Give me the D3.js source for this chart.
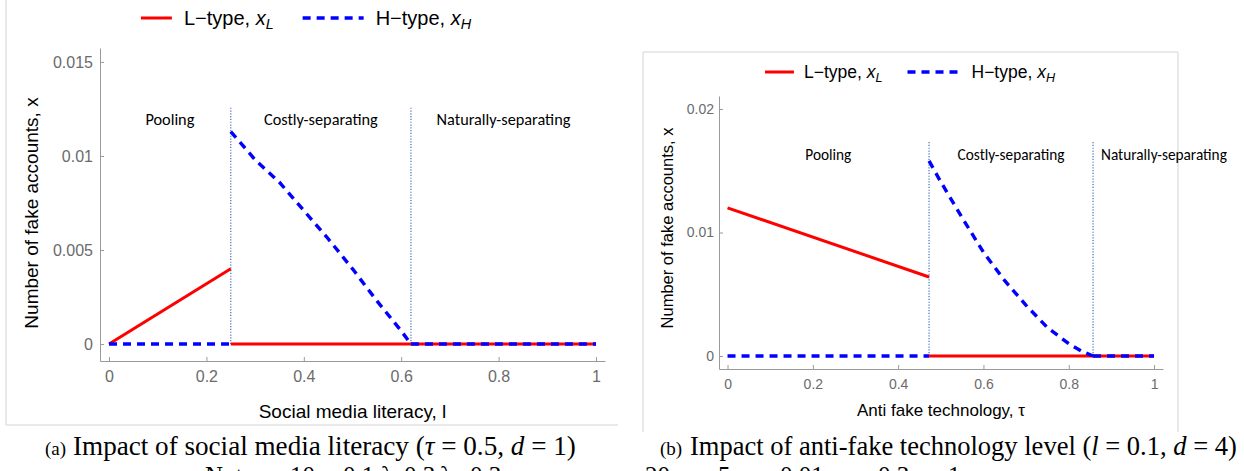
<!DOCTYPE html>
<html>
<head>
<meta charset="utf-8">
<script src="https://cdn.jsdelivr.net/npm/d3@7"></script>
<style>
  body { margin: 0; background: #fff; }
  svg { display: block; }
</style>
</head>
<body>
<svg id="fig" width="1244" height="471"></svg>
<script>
// ---------- shared labels ----------
const regionNames = ["Pooling", "Costly-separating", "Naturally-separating"];
const xTickValues = [0, 0.2, 0.4, 0.6, 0.8, 1];
const xTickLabels = ["0", "0.2", "0.4", "0.6", "0.8", "1"];

// ---------- panel (a): social media literacy l ----------
const aYTickValues = [0, 0.005, 0.01, 0.015];
const aYTickLabels = ["0", "0.005", "0.01", "0.015"];
const aBounds = [0, 0.25, 0.62, 1];
const aLPoolX = [0, 0.25];
const aLPoolY = [0, 0.004];
const aLSepX = [0.25, 1];
const aLSepY = [0, 0];
const aHPoolX = [0, 0.25];
const aHPoolY = [0, 0];
const aHCostX = [0.25, 0.30, 0.35, 0.40, 0.45, 0.50, 0.55, 0.60, 0.62];
const aHCostY = [0.0113, 0.0098, 0.0086, 0.0071, 0.0056, 0.0040, 0.0023, 0.0007, 0];
const aHNatX = [0.62, 1];
const aHNatY = [0, 0];

// ---------- panel (b): anti-fake technology tau ----------
const bYTickValues = [0, 0.01, 0.02];
const bYTickLabels = ["0", "0.01", "0.02"];
const bBounds = [0, 0.4725, 0.857, 1];
const bLPoolX = [0, 0.4725];
const bLPoolY = [0.012, 0.0064];
const bLSepX = [0.4725, 1];
const bLSepY = [0, 0];
const bHPoolX = [0, 0.4725];
const bHPoolY = [0, 0];
const bHCostX = [0.4725, 0.50, 0.55, 0.60, 0.65, 0.70, 0.75, 0.80, 0.83, 0.857];
const bHCostY = [0.0158, 0.0141, 0.0112, 0.0084, 0.0061, 0.0041, 0.0023, 0.0010, 0.0004, 0];
const bHNatX = [0.857, 1];
const bHNatY = [0, 0];

// ---------- parameter note under the captions (runs off the bottom edge) ----------
const noteParts = ["Note:", "10", "0.1", "\u03bb", "0.3", "\u03bb", "0.3", "20", "5", "0.01", "0.3", "1"];
const noteAt = [205, 290, 343, 381, 404, 440, 470, 645, 718, 780, 878, 948];

const RED = "#ff0000", BLUE = "#0000ff", DOT = "#5a87c2";
const AXIS = "#9a9a9a", TICKTXT = "#6b6b6b";
const SANS = "'Liberation Sans', Arial, Helvetica, sans-serif";
const SERIF = "'Liberation Serif', 'Times New Roman', serif";

const svg = d3.select("#fig");
svg.append("rect").attr("width", 1244).attr("height", 471).attr("fill", "#fff");

const zip = (xs, ys) => xs.map((v, i) => [v, ys[i]]);

function drawPanel(o) {
  const g = svg.append("g");

  // frame of the panel
  g.append("path").attr("d", o.frame).attr("fill", "none")
    .attr("stroke", "#d4d4d4").attr("stroke-width", 1);

  const x = d3.scaleLinear().domain(o.xDom).range([o.left, o.right]);
  const y = d3.scaleLinear().domain(o.yDom).range([o.bottom, o.top]);

  // axes with inward ticks
  const ax = g.append("g").attr("transform", `translate(0,${o.bottom})`)
    .call(d3.axisBottom(x).tickValues(xTickValues)
      .tickFormat((d, i) => xTickLabels[i])
      .tickSizeInner(-o.tick).tickSizeOuter(0).tickPadding(o.xPad));
  const ay = g.append("g").attr("transform", `translate(${o.left},0)`)
    .call(d3.axisLeft(y).tickValues(o.yTicks)
      .tickFormat((d, i) => o.yLabels[i])
      .tickSizeInner(-o.tick).tickSizeOuter(0).tickPadding(o.yPad));
  [ax, ay].forEach(a => {
    a.select(".domain").attr("stroke", AXIS);
    a.selectAll(".tick line").attr("stroke", AXIS);
    a.selectAll(".tick text").attr("fill", TICKTXT)
      .style("font-family", SANS).style("font-size", o.tickFont + "px");
  });

  // regime boundaries
  const inner = o.bounds.slice(1, -1);
  g.selectAll(".bnd").data(inner).enter().append("line")
    .attr("x1", d => x(d)).attr("x2", d => x(d))
    .attr("y1", y(0)).attr("y2", o.top + o.vTop)
    .attr("stroke", DOT).attr("stroke-width", 1.4)
    .attr("stroke-dasharray", "1.2,1.6");

  // regime labels
  for (let i = 0; i < regionNames.length; i++) {
    const a = x(o.bounds[i]), b = x(o.bounds[i + 1]);
    const t = g.append("text").text(regionNames[i])
      .attr("y", o.top + o.labelY)
      .attr("text-anchor", "middle")
      .style("font-family", "Carlito, Lato, sans-serif")
      .style("font-size", o.labelFont + "px").attr("fill", "#000");
    const w = t.node().getComputedTextLength();
    let cx = (a + b) / 2;
    if (cx - w / 2 < a + 8) cx = a + 8 + w / 2;
    t.attr("x", cx);
  }

  const line = d3.line().x(d => x(d[0])).y(d => y(d[1]));
  const red = s => g.append("path").datum(s).attr("d", line).attr("fill", "none")
    .attr("stroke", RED).attr("stroke-width", 3);
  const blue = s => g.append("path").datum(s).attr("d", line).attr("fill", "none")
    .attr("stroke", BLUE).attr("stroke-width", 3.4).attr("stroke-dasharray", "8,6");

  red(o.LPool); red(o.LSep);
  blue(o.HPool); blue(o.HCost); blue(o.HNat);

  // axis titles
  g.append("text").text(o.xTitle)
    .attr("x", (o.left + o.right) / 2 + o.xTitleDx).attr("y", o.xTitleY)
    .attr("text-anchor", "middle").style("font-family", SANS)
    .style("font-size", o.xTitleFont + "px").attr("fill", "#000");
  g.append("text").text("Number of fake accounts, x")
    .attr("transform", `translate(${o.yTitleX},${o.yTitleY}) rotate(-90)`)
    .attr("text-anchor", "middle").style("font-family", SANS)
    .style("font-size", o.yTitleFont + "px").attr("fill", "#000");

  // legend, centred over the panel
  const lg = g.append("g");
  let cur = 0;
  const items = [
    { c: RED, dash: null, w: o.legSw[0], sub: "L", label: "L\u2212type, " },
    { c: BLUE, dash: "8,6", w: o.legSw[1], sub: "H", label: "H\u2212type, " }
  ];
  items.forEach((it, k) => {
    lg.append("line").attr("x1", cur).attr("x2", cur + it.w)
      .attr("y1", 0).attr("y2", 0).attr("stroke", it.c)
      .attr("stroke-width", k === 0 ? 3 : 3.4)
      .attr("stroke-dasharray", it.dash);
    cur += it.w + o.legGap;
    const t = lg.append("text").attr("x", cur).attr("y", 0).attr("dy", "0.35em")
      .style("font-family", SANS).style("font-size", o.legFont + "px").attr("fill", "#000");
    t.append("tspan").text(it.label);
    t.append("tspan").text("x").style("font-style", "italic");
    t.append("tspan").text(it.sub).style("font-style", "italic")
      .style("font-size", (o.legFont * 0.72) + "px").attr("dy", "0.3em");
    cur += t.node().getComputedTextLength() + o.legSpace;
  });
  const lw = cur - o.legSpace;
  lg.attr("transform", `translate(${o.legCx - lw / 2},${o.legY})`);

  // caption: tag in a smaller size, then the sentence sized to its span
  g.append("text").text(o.capTag).attr("x", o.capTagX).attr("y", o.capY)
    .style("font-family", SERIF).style("font-size", "19px").attr("fill", "#000");
  const cap = g.append("text").attr("x", o.capX).attr("y", o.capY)
    .style("font-family", SERIF).style("font-size", "20px").attr("fill", "#000");
  o.caption.forEach(p => {
    const s = cap.append("tspan").text(p.t);
    if (p.i) s.style("font-style", "italic");
  });
  const cw = cap.node().getComputedTextLength();
  cap.style("font-size", (20 * o.capW / cw) + "px");
}

drawPanel({
  frame: "M6,0 V425 H618",
  left: 100, right: 605, top: 48, bottom: 361,
  xDom: [-0.0185, 1.0185], yDom: [-0.0009, 0.01574],
  yTicks: aYTickValues, yLabels: aYTickLabels,
  tick: 4, xPad: 10, yPad: 7, tickFont: 16,
  bounds: aBounds, vTop: 58, labelY: 77, labelFont: 16.3,
  LPool: zip(aLPoolX, aLPoolY), LSep: zip(aLSepX, aLSepY),
  HPool: zip(aHPoolX, aHPoolY), HCost: zip(aHCostX, aHCostY), HNat: zip(aHNatX, aHNatY),
  xTitle: "Social media literacy, l", xTitleDx: 0, xTitleY: 418, xTitleFont: 19,
  yTitleX: 38, yTitleY: 213, yTitleFont: 19,
  legCx: 306, legY: 18, legSw: [31, 61], legGap: 12, legSpace: 29, legFont: 20,
  capTagX: 45, capX: 73, capY: 455, capW: 503, capTag: "(a)",
  caption: [{ t: "Impact of social media literacy (" }, { t: "\u03c4", i: true },
    { t: " = 0.5, " }, { t: "d", i: true }, { t: " = 1)" }]
});

drawPanel({
  frame: "M643,432 V52 H1178 V432",
  left: 719, right: 1163, top: 96, bottom: 369,
  xDom: [-0.02, 1.021], yDom: [-0.00105, 0.02105],
  yTicks: bYTickValues, yLabels: bYTickLabels,
  tick: 4, xPad: 10, yPad: 5, tickFont: 14,
  bounds: bBounds, vTop: 46, labelY: 64, labelFont: 15.3,
  LPool: zip(bLPoolX, bLPoolY), LSep: zip(bLSepX, bLSepY),
  HPool: zip(bHPoolX, bHPoolY), HCost: zip(bHCostX, bHCostY), HNat: zip(bHNatX, bHNatY),
  xTitle: "Anti fake technology, \u03c4", xTitleDx: 0, xTitleY: 416, xTitleFont: 17,
  yTitleX: 673, yTitleY: 228, yTitleFont: 16.5,
  legCx: 910, legY: 72, legSw: [29, 54], legGap: 10, legSpace: 25, legFont: 17.5,
  capTagX: 660, capX: 690, capY: 455, capW: 547, capTag: "(b)",
  caption: [{ t: "Impact of anti-fake technology level (" }, { t: "l", i: true },
    { t: " = 0.1, " }, { t: "d", i: true }, { t: " = 4)" }]
});

// parameter note: only the top of this line falls inside the figure
svg.append("g").selectAll("text").data(noteParts).enter().append("text")
  .attr("x", (d, i) => noteAt[i]).attr("y", 484)
  .style("font-family", SERIF).style("font-size", "25px").attr("fill", "#000")
  .text(d => d);
</script>
</body>
</html>
